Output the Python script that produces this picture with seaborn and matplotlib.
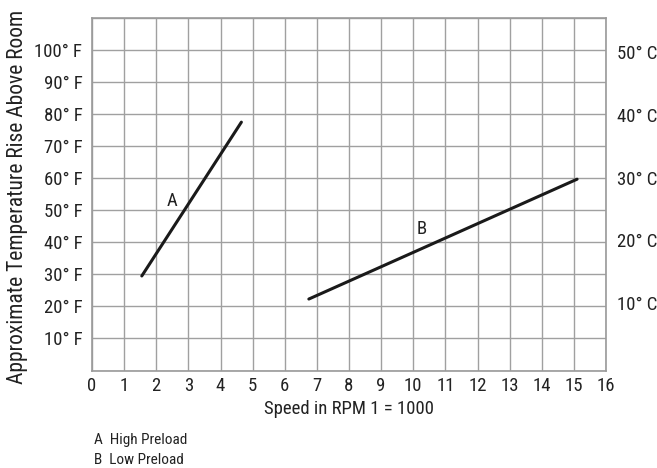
import matplotlib
matplotlib.use("Agg")
import matplotlib.pyplot as plt
from matplotlib import font_manager as fm
import seaborn as sns
import pandas as pd

# Data
series = ["A", "A", "B", "B"]
speed = [1.55, 4.65, 6.75, 15.1]
temp_f = [29.5, 77.5, 22.3, 59.7]
x_ticks = list(range(0, 17))
f_ticks = [10, 20, 30, 40, 50, 60, 70, 80, 90, 100]
f_labels = [f"{v}° F" for v in f_ticks]
c_ticks = [10, 20, 30, 40, 50]
c_labels = [f"{v}° C" for v in c_ticks]
legend_lines = ["A  High Preload", "B  Low Preload"]

sns.set_style("white")
plt.rcParams["font.family"] = ["Liberation Sans", "DejaVu Sans"]

# look for an installed condensed / narrow sans face
BAD = ("bold", "italic", "oblique", "light", "medium", "semi", "extra",
       "black", "thin", "heavy", "mono", "serif", "demi")
def find_condensed():
    prefs = ["liberation sans narrow", "liberationsansnarrow", "roboto condensed",
             "robotocondensed", "noto sans condensed", "notosans-condensed",
             "open sans condensed", "opensans-condensed", "dejavu sans condensed",
             "dejavusanscondensed"]
    found = []
    for f in fm.fontManager.ttflist:
        nm = (f.name + " " + f.fname.split("/")[-1]).lower()
        if not ("narrow" in nm or "condensed" in nm):
            continue
        base = f.fname.split("/")[-1].lower()
        if any(b in base for b in BAD):
            continue
        if f.style != "normal":
            continue
        rank = len(prefs)
        for i, p in enumerate(prefs):
            if p in nm:
                rank = i
                break
        found.append((rank, f.fname))
    found.sort()
    return found[0][1] if found else None

cond = find_condensed()
if cond:
    def FP(size):
        return fm.FontProperties(fname=cond, size=size)
    S_TICK, S_LAB, S_YLAB, S_LEG = 13.5, 13.5, 15.5, 11
else:
    def FP(size):
        return fm.FontProperties(family=["Liberation Sans", "DejaVu Sans"], size=size)
    S_TICK, S_LAB, S_YLAB, S_LEG = 11, 11.5, 13, 9

df = pd.DataFrame({"series": series, "speed": speed, "temp": temp_f})

fig = plt.figure(figsize=(6.57, 4.68), dpi=100)
W, H = 657, 468
ax = fig.add_axes([92 / W, 1 - 370.5 / H, (606 - 92) / W, (370.5 - 18) / H])

sns.lineplot(data=df, x="speed", y="temp", units="series", estimator=None,
             color="#1a1a1a", linewidth=2.2, ax=ax, legend=False)

ax.set_xlim(0, 16)
ax.set_ylim(0, 110)
ax.set_xticks(x_ticks)
ax.set_xticklabels([str(v) for v in x_ticks])
ax.set_yticks(list(range(0, 111, 10)))
ax.set_yticklabels([""] + f_labels + [""])
for t in ax.get_xticklabels() + ax.get_yticklabels():
    t.set_fontproperties(FP(S_TICK))
    t.set_color("#222222")
ax.tick_params(axis="x", length=0, pad=5)
ax.tick_params(axis="y", length=0, pad=7)
ax.grid(True, color="#a0a0a0", linewidth=1.0)
for s in ax.spines.values():
    s.set_visible(True)
    s.set_color("#9a9a9a")
    s.set_linewidth(1.2)

ax.set_xlabel("Speed in RPM 1 = 1000", fontproperties=FP(S_LAB), labelpad=3, color="#222222")
ax.set_ylabel("Approximate Temperature Rise Above Room", fontproperties=FP(S_YLAB),
              color="#222222", va="center", ha="center")
ax.yaxis.set_label_coords(-(92 - 18) / (606 - 92), (370.5 - 197) / (370.5 - 18))

ax.text(2.48, 53, "A", fontproperties=FP(S_TICK), ha="center", va="center", color="#222222")
ax.text(10.28, 44, "B", fontproperties=FP(S_TICK), ha="center", va="center", color="#222222")

ax2 = ax.twinx()
ax2.set_ylim(-0.8, 55.5)
ax2.set_yticks(c_ticks)
ax2.set_yticklabels(c_labels)
for t in ax2.get_yticklabels():
    t.set_fontproperties(FP(S_TICK))
    t.set_color("#222222")
ax2.tick_params(axis="y", length=0, pad=8)
ax2.grid(False)
for s in ax2.spines.values():
    s.set_visible(False)

fig.text(94 / W, 1 - 440 / H, legend_lines[0], fontproperties=FP(S_LEG),
         va="center", ha="left", color="#222222")
fig.text(94 / W, 1 - 460 / H, legend_lines[1], fontproperties=FP(S_LEG),
         va="center", ha="left", color="#222222")

fig.savefig("out.png", dpi=100)
